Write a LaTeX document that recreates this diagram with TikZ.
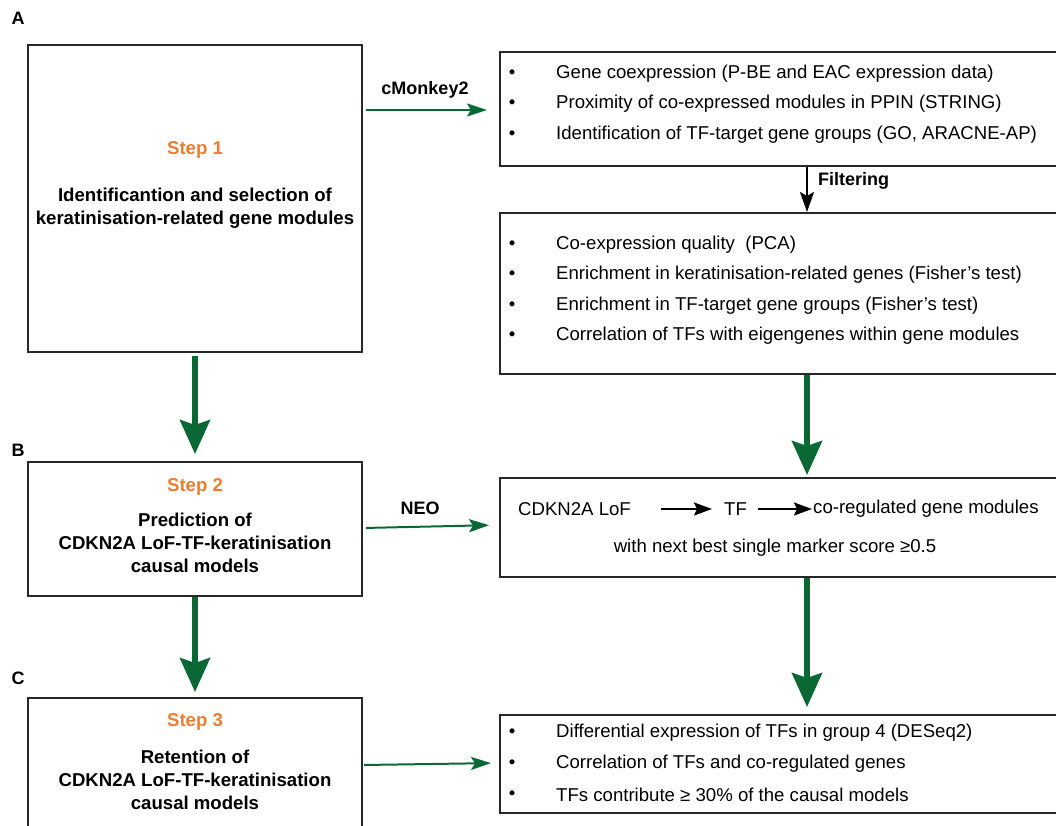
\documentclass[tikz,border=0pt]{standalone}
\usepackage{fontspec}
\setmainfont{Liberation Sans}
\usetikzlibrary{arrows.meta}

\definecolor{flowgreen}{RGB}{10,104,52}
\definecolor{steporange}{RGB}{237,125,49}
\definecolor{boxgray}{RGB}{40,40,40}

\begin{document}
\begin{tikzpicture}[x=1pt,y=-1pt]
	\tikzstyle{every node}=[inner sep=0pt,font=\fontsize{18.6}{22}\selectfont]
	\tikzstyle{box}=[draw=boxgray,line width=2pt,rectangle]
	\tikzstyle{steptitle}=[font=\fontsize{18.6}{22}\selectfont\bfseries,text=steporange]
	\tikzstyle{stepbody}=[font=\fontsize{18.6}{23}\selectfont\bfseries,align=center]
	\tikzstyle{panel}=[font=\fontsize{18}{22}\selectfont\bfseries]
	\tikzstyle{item}=[anchor=west]
	\tikzstyle{thinarrow}=[draw=flowgreen,line width=2pt,-{Stealth[length=20pt,width=13pt,inset=4pt]}]
	\tikzstyle{bigarrow}=[draw=flowgreen,line width=5.5pt,-{Stealth[length=34pt,width=30pt,inset=5pt]}]
	\tikzstyle{blackarrow}=[draw=black,line width=2pt,-{Stealth[length=20pt,width=14pt,inset=4pt]}]

	\useasboundingbox (0,0) rectangle (1056,826);

	%%Left column: the three steps
	\node [panel] (panA) at (18,18) {A};
	\node [panel] (panB) at (18,450) {B};
	\node [panel] (panC) at (18,678) {C};
	\node [box,minimum width=334pt,minimum height=307pt] (stepA) at (195,198.5) {};
	\node [steptitle] (titleA) at (195,150) {Step 1};
	\node [stepbody] (bodyA) at (195,208) {Identificantion and selection of\\keratinisation-related gene modules};
	\node [box,minimum width=334pt,minimum height=134pt] (stepB) at (195,529) {};
	\node [steptitle] (titleB) at (195,487) {Step 2};
	\node [stepbody] (bodyB) at (195,543) {Prediction of\\CDKN2A LoF-TF-keratinisation\\causal models};
	\node [box,minimum width=334pt,minimum height=142pt] (stepC) at (195,769) {};
	\node [steptitle] (titleC) at (195,722) {Step 3};
	\node [stepbody] (bodyC) at (195,780) {Retention of\\CDKN2A LoF-TF-keratinisation\\causal models};

	%%Right column: criteria
	\node [box,minimum width=570pt,minimum height=114pt] (cm) at (785,109) {};
	\node (cmb1) at (512,74) {\textbullet};
	\node [item] (cm1) at (556,74) {Gene coexpression (P-BE and EAC expression data)};
	\node (cmb2) at (512,104) {\textbullet};
	\node [item] (cm2) at (556,104) {Proximity of co-expressed modules in PPIN (STRING)};
	\node (cmb3) at (512,135) {\textbullet};
	\node [item] (cm3) at (556,135) {Identification of TF-target gene groups (GO, ARACNE-AP)};

	\node [box,minimum width=570pt,minimum height=161pt] (filt) at (785,293.5) {};
	\node (fb1) at (512,245) {\textbullet};
	\node [item] (f1) at (556,245) {Co-expression quality\ \ (PCA)};
	\node (fb2) at (512,275) {\textbullet};
	\node [item] (f2) at (556,275) {Enrichment in keratinisation-related genes (Fisher’s test)};
	\node (fb3) at (512,306) {\textbullet};
	\node [item] (f3) at (556,306) {Enrichment in TF-target gene groups (Fisher’s test)};
	\node (fb4) at (512,336) {\textbullet};
	\node [item] (f4) at (556,336) {Correlation of TFs with eigengenes within gene modules};

	\node [box,minimum width=570pt,minimum height=99pt] (neo) at (785,527.5) {};
	\node [item] (lof) at (518,509) {CDKN2A LoF};
	\node [item] (tf) at (724,509) {TF};
	\node [item] (coreg) at (813,509) {co-regulated gene modules};
	\node (score) at (775,548) {with next best single marker score ≥0.5};

	\node [box,minimum width=570pt,minimum height=98pt] (ret) at (785,764) {};
	\node (rb1) at (512,733) {\textbullet};
	\node [item] (r1) at (556,733) {Differential expression of TFs in group 4 (DESeq2)};
	\node (rb2) at (512,764) {\textbullet};
	\node [item] (r2) at (556,764) {Correlation of TFs and co-regulated genes};
	\node (rb3) at (512,795) {\textbullet};
	\node [item] (r3) at (556,795) {TFs contribute ≥ 30\% of the causal models};

	%%Connectors
	\draw [thinarrow,shorten <=3pt,shorten >=12pt] (stepA.east |- 0,110) -- (cm.west |- 0,110);
	\node [panel] (cmlab) at (425,90) {cMonkey2};
	\draw [blackarrow] (cm.south -| 807,0) -- (filt.north -| 807,0);
	\node [panel,anchor=west] (filtlab) at (818,181) {Filtering};
	\draw [bigarrow,shorten >=2pt] (filt.south -| 807,0) -- (neo.north -| 807,0);
	\draw [bigarrow,shorten >=7pt] (neo.south -| 807,0) -- (ret.north -| 807,0);
	\draw [bigarrow,shorten <=3pt,shorten >=7pt] (stepA.south) -- (stepB.north);
	\draw [bigarrow,shorten >=5pt] (stepB.south) -- (stepC.north);
	\draw [thinarrow,shorten <=3pt,shorten >=10pt] (stepB.east |- 0,528) -- (neo.west |- 0,525);
	\node [panel] (neolab) at (420,508) {NEO};
	\draw [thinarrow,shorten <=1pt,shorten >=8pt] (stepC.east |- 0,765) -- (ret.west |- 0,763);
	\draw [blackarrow,-{Stealth[length=18pt,width=13pt,inset=3pt]},shorten <=30pt,shorten >=12pt] (lof.east) -- (tf.west);
	\draw [blackarrow,-{Stealth[length=18pt,width=13pt,inset=3pt]},shorten <=11pt,shorten >=1pt] (tf.east) -- (coreg.west);

\end{tikzpicture}
\end{document}
